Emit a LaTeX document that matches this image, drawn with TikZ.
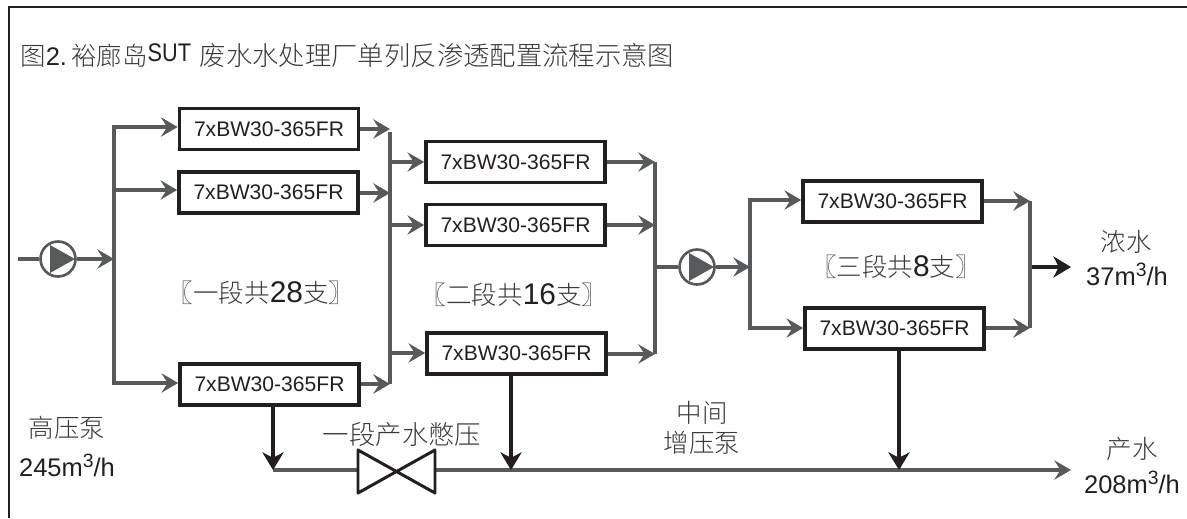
\documentclass[tikz,border=0pt]{standalone}
\usepackage{fontspec}
\setmainfont{Liberation Sans}
\newfontfamily\cjk{Noto Sans CJK SC Light}
\newfontfamily\narrowlat[FakeStretch=0.85]{Liberation Sans}
\usetikzlibrary{arrows.meta}
\definecolor{flowgray}{HTML}{58595B}
\definecolor{darkline}{HTML}{231F20}
\definecolor{cjkgray}{HTML}{3A3A3A}
\newcommand{\cn}[1]{{\cjk\color{cjkgray}#1}}
\newcommand{\bignum}[1]{{\fontsize{17}{17}\selectfont #1}}
\newcommand{\cubic}{\raisebox{5pt}{\fontsize{11}{11}\selectfont 3}}
\tikzset{
 unit/.style={draw=darkline,line width=2.1pt,minimum width=3.58cm,minimum height=0.82cm,inner sep=0pt,font=\fontsize{12}{14}\selectfont,text=darkline},
 flow/.style={draw=flowgray,line width=2.1pt,-{Stealth[length=9.5pt,width=11pt,inset=3.5pt]}},
 bus/.style={draw=flowgray,line width=2.1pt},
 perm/.style={draw=darkline,line width=2.8pt,-{Stealth[length=10pt,width=12pt,inset=3pt]}},
 pumpc/.style={circle,draw=flowgray,line width=1.5pt,minimum size=0.70cm,inner sep=0pt,fill=white},
 label/.style={font=\fontsize{14.5}{17}\selectfont,text=darkline,align=center,inner sep=0pt},
}
\begin{document}
\begin{tikzpicture}[x=0.02cm,y=-0.02cm]
 \useasboundingbox (0,0) rectangle (1187,518);
 \draw[darkline,line width=1.2pt] (9,518) -- (9,7) -- (1187,7);
 \node[label,anchor=west] (title) at (20,55) {\cn{图}2.\,\cn{裕廊岛}\raisebox{2pt}{\narrowlat SUT}\hspace{5pt}{\fontsize{15}{17}\selectfont\cn{废水水处理厂单列反渗透配置流程示意图}}};
 % first stage
 \node[unit] (a1) at (269,129) {7xBW30-365FR};
 \node[unit] (a2) at (268.5,192.5) {7xBW30-365FR};
 \node[unit] (a3) at (269.5,384.5) {7xBW30-365FR};
 % second stage
 \node[unit] (b1) at (515.5,162) {7xBW30-365FR};
 \node[unit] (b2) at (515.5,225) {7xBW30-365FR};
 \node[unit] (b3) at (516.5,353.5) {7xBW30-365FR};
 % third stage
 \node[unit] (c1) at (892.5,201.5) {7xBW30-365FR};
 \node[unit] (c2) at (894.5,328.5) {7xBW30-365FR};
 % pumps
 \coordinate (in) at (18,259);
 \node[pumpc] (p1) at (58,259) {};
 \node[pumpc] (p2) at (697,267) {};
 \fill[flowgray] (50,245) -- (75,259) -- (50,273) -- cycle;
 \fill[flowgray] (689,253) -- (714,267) -- (689,281) -- cycle;
 % feed side
 \coordinate (s1t) at (114,127);
 \coordinate (s1m) at (114,190);
 \coordinate (s1c) at (114,259);
 \coordinate (s1b) at (114,383);
 \draw[bus] (in) -- (p1);
 \draw[flow] (p1) -- (s1c);
 \draw[bus,line cap=rect] (s1b) -- (s1t);
 \draw[flow] (s1t) -- (s1t -| a1.west);
 \draw[flow] (s1m) -- (s1m -| a2.west);
 \draw[flow] (s1b) -- (s1b -| a3.west);
 % first to second stage
 \coordinate (s2t) at (390,132);
 \coordinate (s2b) at (390,384);
 \coordinate (o1) at (390,129);
 \coordinate (o2) at (390,193);
 \draw[bus] (s2t) -- (s2b);
 \draw[flow] (o1 -| a1.east) -- (o1);
 \draw[flow] (o2 -| a2.east) -- (o2);
 \draw[flow] (s2b -| a3.east) -- (s2b);
 \coordinate (i1) at (390,162);
 \coordinate (i2) at (390,225);
 \coordinate (i3) at (390,353);
 \draw[flow] (i1) -- (i1 -| b1.west);
 \draw[flow] (i2) -- (i2 -| b2.west);
 \draw[flow] (i3) -- (i3 -| b3.west);
 % second to third stage
 \coordinate (s3t) at (655,162);
 \coordinate (s3m) at (655,267);
 \coordinate (s3u) at (655,225);
 \coordinate (s3b) at (655,354);
 \draw[bus] (s3t) -- (s3b);
 \draw[flow] (s3t -| b1.east) -- (s3t);
 \draw[flow] (s3u -| b2.east) -- (s3u);
 \draw[flow] (s3b -| b3.east) -- (s3b);
 \draw[bus] (s3m) -- (p2);
 \coordinate (s4t) at (750,200);
 \coordinate (s4m) at (750,267);
 \coordinate (s4b) at (750,328);
 \draw[bus,line cap=rect] (s4t) -- (s4b);
 \draw[flow] (p2) -- (s4m);
 \draw[flow] (s4t) -- (s4t -| c1.west);
 \draw[flow] (s4b) -- (s4b -| c2.west);
 % brine
 \coordinate (s5t) at (1030,201);
 \coordinate (s5m) at (1032,267);
 \coordinate (s5b) at (1030,328);
 \coordinate (brine) at (1071,267);
 \draw[bus] (s5t) -- (s5b);
 \draw[flow] (s5t -| c1.east) -- (s5t);
 \draw[flow] (s5b -| c2.east) -- (s5b);
 \draw[perm] (s5m) -- (brine);
 % permeate
 \coordinate (q0) at (273,470);
 \coordinate (q1) at (511,470);
 \coordinate (q2) at (899,470);
 \coordinate (prod) at (1071,470);
 \coordinate (vl) at (358,470);
 \coordinate (vr) at (435,470);
 \draw[bus] (q0) -- (vl);
 \draw[flow] (vr) -- (prod);
 \draw[perm] (q0 |- a3.south) -- (q0);
 \draw[perm] (q1 |- b3.south) -- (q1);
 \draw[perm] (q2 |- c2.south) -- (q2);
 \draw[darkline,line width=1.7pt,fill=white,line join=round] (358,450) -- (435,493) -- (435,450) -- (358,493) -- cycle;
 % labels
 \node[label] (l1) at (261,293) {\cn{〖一段共}\bignum{28}\cn{支〗}};
 \node[label] (l2) at (514,295) {\cn{〖二段共}\bignum{16}\cn{支〗}};
 \node[label] (l3) at (896,267) {\cn{〖三段共}\bignum{8}\cn{支〗}};
 \node[label] (l4) at (67,428) {\cn{高压泵}};
 \node[label] (l5) at (67,465) {245m\cubic/h};
 \node[label,font=\fontsize{15}{17}\selectfont] (l6) at (402,435) {\cn{一段产水憋压}};
 \node[label] (l7) at (702,413) {\cn{中间}};
 \node[label] (l8) at (702,443) {\cn{增压泵}};
 \node[label] (l9) at (1126,242) {\cn{浓水}};
 \node[label] (l10) at (1127,274) {37m\cubic/h};
 \node[label] (l11) at (1132,449) {\cn{产水}};
 \node[label] (l12) at (1132,482) {208m\cubic/h};
\end{tikzpicture}
\end{document}
